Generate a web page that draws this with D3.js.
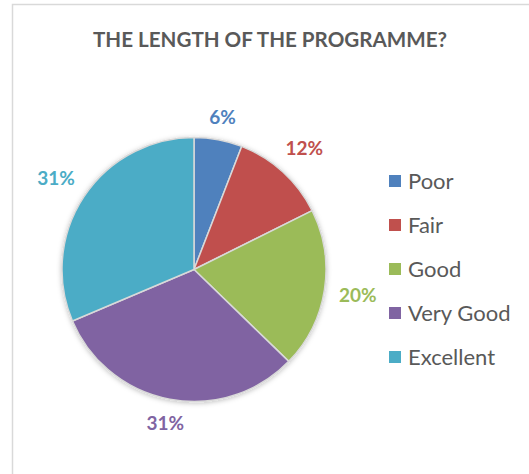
<!DOCTYPE html>
<html>
<head>
<meta charset="utf-8">
<script src="https://cdn.jsdelivr.net/npm/d3@7"></script>
<style>
  body { margin: 0; background: #fff; }
  svg { display: block; font-family: Lato, "Open Sans", sans-serif; }
</style>
</head>
<body>
<script>
// chart data (responses per category; labels show rounded %)
const categories = ['Poor', 'Fair', 'Good', 'Very Good', 'Excellent'];
const responses = [3, 6, 10, 16, 16];
const colours = ['#4F81BD', '#C0504D', '#9BBB59', '#8064A2', '#4BACC6'];
const title = 'THE LENGTH OF THE PROGRAMME?';

const width = 529;
const height = 474;
const cx = 194, cy = 269.5, radius = 132;

const svg = d3.select('body').append('svg')
  .attr('width', width)
  .attr('height', height);

// soft shadow under the pie
const defs = svg.append('defs');
defs.append('filter')
  .attr('id', 'shadow')
  .attr('x', '-20%').attr('y', '-20%')
  .attr('width', '140%').attr('height', '140%')
  .append('feDropShadow')
  .attr('dx', 0).attr('dy', 1)
  .attr('stdDeviation', 2.5)
  .attr('flood-color', '#000')
  .attr('flood-opacity', 0.25);

// chart area border (right / bottom fall outside the view)
svg.append('rect')
  .attr('x', 12.5).attr('y', 4.5)
  .attr('width', 540).attr('height', 500)
  .attr('fill', '#fff')
  .attr('stroke', '#d9d9d9')
  .attr('stroke-width', 1.5);

svg.append('text')
  .attr('x', 270)
  .attr('y', 47)
  .attr('text-anchor', 'middle')
  .attr('font-size', 20.6)
  .attr('font-weight', 'bold')
  .attr('fill', '#595959')
  .text(title);

const total = d3.sum(responses);
const data = categories.map((c, i) => ({ name: c, value: responses[i], colour: colours[i] }));

const pie = d3.pie().sort(null).value(d => d.value);
const arc = d3.arc().innerRadius(0).outerRadius(radius);
const arcs = pie(data);

const g = svg.append('g').attr('transform', `translate(${cx},${cy})`);

g.append('g')
  .attr('filter', 'url(#shadow)')
  .selectAll('path')
  .data(arcs)
  .enter()
  .append('path')
  .attr('d', arc)
  .attr('fill', d => d.data.colour)
  .attr('stroke', '#d9d9d9')
  .attr('stroke-width', 1.5)
  .attr('stroke-linejoin', 'round');

// outside-end labels
const labels = g.selectAll('.lbl')
  .data(arcs)
  .enter()
  .append('text')
  .attr('class', 'lbl')
  .attr('text-anchor', 'middle')
  .attr('dy', '0.36em')
  .attr('font-size', 19)
  .attr('font-weight', 'bold')
  .attr('fill', d => d.data.colour)
  .text(d => Math.round(d.data.value / total * 100) + '%');

labels.each(function(d) {
  const w = this.getComputedTextLength();
  const h = 14;
  const a = (d.startAngle + d.endAngle) / 2;
  const s = Math.sin(a), c = Math.cos(a);
  const r = radius + 14 + Math.abs(s) * w / 2 + Math.abs(c) * h / 2;
  d3.select(this).attr('x', r * s).attr('y', -r * c);
});

// legend
const legend = svg.append('g').attr('class', 'legend');
const rows = legend.selectAll('g')
  .data(data)
  .enter()
  .append('g')
  .attr('transform', (d, i) => `translate(389, ${181 + i * 44})`);

rows.append('rect')
  .attr('x', 0).attr('y', -6)
  .attr('width', 12).attr('height', 12)
  .attr('fill', d => d.colour);

rows.append('text')
  .attr('x', 19)
  .attr('y', 8)
  .attr('font-size', 22)
  .attr('fill', '#595959')
  .text(d => d.name);
</script>
</body>
</html>
